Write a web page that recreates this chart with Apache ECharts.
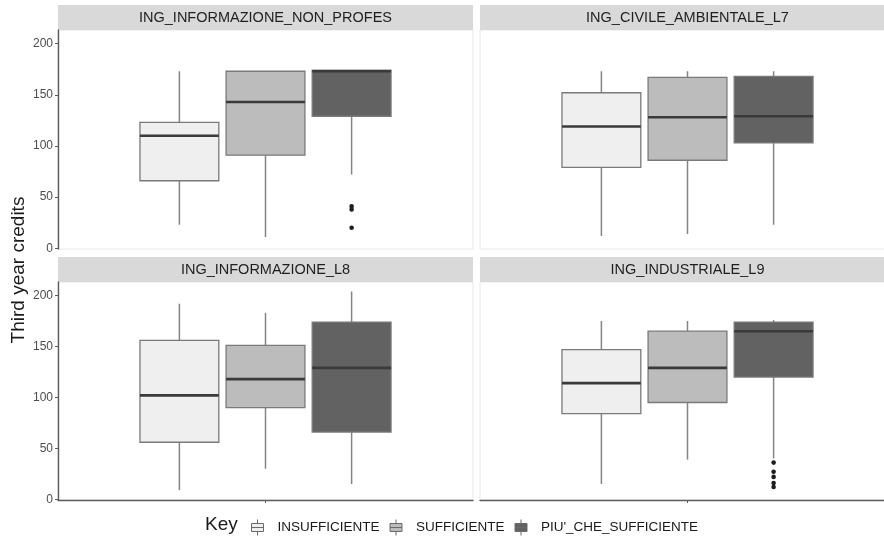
<!DOCTYPE html>
<html>
<head>
<meta charset="utf-8">
<script src="https://cdn.jsdelivr.net/npm/echarts@6.0.0/dist/echarts.min.js"></script>
<style>
  html, body { margin: 0; padding: 0; background: #ffffff; }
  #chart { width: 884px; height: 538px; }
</style>
</head>
<body>
<div id="chart"></div>
<script>
// ---- data ----------------------------------------------------------------
const panels = [
  'ING_INFORMAZIONE_NON_PROFES',
  'ING_CIVILE_AMBIENTALE_L7',
  'ING_INFORMAZIONE_L8',
  'ING_INDUSTRIALE_L9'
];
const keys = ['INSUFFICIENTE', 'SUFFICIENTE', "PIU'_CHE_SUFFICIENTE"];
const yTicks = [0, 50, 100, 150, 200];

// five-number summaries per panel: [lower whisker, Q1, median, Q3, upper whisker]
const insufficiente = [
  [23, 66, 110, 123, 173],
  [12, 79, 119, 152, 173],
  [9, 56, 102, 156, 192],
  [15, 84, 114, 147, 175]
];
const sufficiente = [
  [11, 91, 143, 173, 173],
  [14, 86, 128, 167, 173],
  [30, 90, 118, 151, 183],
  [39, 95, 129, 165, 175]
];
const piuCheSufficiente = [
  [72, 129, 173, 174, 174],
  [23, 103, 129, 168, 173],
  [15, 66, 129, 174, 204],
  [40, 120, 165, 174, 176]
];

// outlying observations per panel
const outliersInsufficiente = [[], [], [], []];
const outliersSufficiente = [[], [], [], []];
const outliersPiuCheSufficiente = [[41, 38, 20], [], [], [36, 27, 22, 16, 12]];

// ---- styling & layout ----------------------------------------------------
const FONT = '"Liberation Sans", Arial, Helvetica, sans-serif';
const summaries = [insufficiente, sufficiente, piuCheSufficiente];
const outliers = [outliersInsufficiente, outliersSufficiente, outliersPiuCheSufficiente];
const keyFills = ['#efefef', '#bcbcbc', '#626262'];
const BOX_BORDER = '#7a7a7a';
const WHISKER = '#858585';
const MEDIAN = '#3a3a3a';
const AXIS_DARK = '#5c5c5c';

const PANEL_W = 415;
const STRIP_H = 25;
const panelBoxes = [
  { left: 58,  top: 30,  height: 219 },
  { left: 480, top: 30,  height: 219 },
  { left: 58,  top: 282, height: 218 },
  { left: 480, top: 282, height: 218 }
];
// dodge: three boxes share one x slot (fractions of the band width)
const DODGE = 0.2075;
const BOX_W = 0.19;

function boxRenderer(k) {
  return function (params, api) {
    const band = api.size([1, 0])[0];
    const cat = api.value(0);
    const cx = api.coord([cat, 0])[0] + (k - 1) * DODGE * band;
    const half = BOX_W * band / 2;
    const py = i => api.coord([cat, api.value(i)])[1];
    const yMin = py(1), yQ1 = py(2), yMed = py(3), yQ3 = py(4), yMax = py(5);
    return {
      type: 'group',
      children: [
        { type: 'line', shape: { x1: cx, y1: yMax, x2: cx, y2: yQ3 },
          style: { stroke: WHISKER, lineWidth: 1.5 } },
        { type: 'line', shape: { x1: cx, y1: yQ1, x2: cx, y2: yMin },
          style: { stroke: WHISKER, lineWidth: 1.5 } },
        { type: 'rect', shape: { x: cx - half, y: yQ3, width: 2 * half, height: yQ1 - yQ3 },
          style: { fill: api.visual('color'), stroke: BOX_BORDER, lineWidth: 1.3 } },
        { type: 'line', shape: { x1: cx - half, y1: yMed, x2: cx + half, y2: yMed },
          style: { stroke: MEDIAN, lineWidth: 2.6 } }
      ]
    };
  };
}

function outlierRenderer(k) {
  return function (params, api) {
    const band = api.size([1, 0])[0];
    const cat = api.value(0);
    const p = api.coord([cat, api.value(1)]);
    return {
      type: 'circle',
      shape: { cx: p[0] + (k - 1) * DODGE * band, cy: p[1], r: 2.3 },
      style: { fill: '#1e1e1e' }
    };
  };
}

const grid = [], xAxis = [], yAxis = [], series = [], graphic = [];

panels.forEach((title, p) => {
  const box = panelBoxes[p];
  const isBottom = p >= 2;
  const isLeft = p % 2 === 0;

  grid.push({
    left: box.left, top: box.top, width: PANEL_W, height: box.height,
    show: true, backgroundColor: '#ffffff', borderColor: '#e8e8e8', borderWidth: 1,
    outerBoundsMode: 'none', containLabel: false
  });

  xAxis.push({
    gridIndex: p, type: 'category', data: [''], boundaryGap: true,
    axisLine: { show: isBottom, onZero: false, lineStyle: { color: AXIS_DARK, width: 1.4 } },
    axisTick: { show: isBottom, alignWithLabel: true, length: 3, lineStyle: { color: AXIS_DARK } },
    axisLabel: { show: false },
    splitLine: { show: false }
  });

  yAxis.push({
    gridIndex: p, type: 'value', min: -0.7, max: 213.3, show: isLeft,
    axisLine: { show: true, lineStyle: { color: AXIS_DARK, width: 1.4 } },
    axisTick: { show: true, length: 3, customValues: yTicks, lineStyle: { color: AXIS_DARK } },
    axisLabel: { customValues: yTicks, fontFamily: FONT, fontSize: 12, color: '#4d4d4d', margin: 5 },
    splitLine: { show: false }
  });

  keys.forEach((key, k) => {
    const s = summaries[k][p];
    series.push({
      name: key, type: 'custom', xAxisIndex: p, yAxisIndex: p,
      itemStyle: { color: keyFills[k] },
      data: [[0, s[0], s[1], s[2], s[3], s[4]]],
      renderItem: boxRenderer(k), z: 2, silent: true
    });
    if (outliers[k][p].length) {
      series.push({
        name: key + ' outliers', type: 'custom', xAxisIndex: p, yAxisIndex: p,
        data: outliers[k][p].map(v => [0, v]),
        renderItem: outlierRenderer(k), z: 3, silent: true
      });
    }
  });

  // facet strip
  graphic.push({
    type: 'group', left: box.left, top: box.top - STRIP_H,
    children: [
      { type: 'rect', shape: { x: 0, y: 0, width: PANEL_W, height: STRIP_H },
        style: { fill: '#d9d9d9' } },
      { type: 'text', x: PANEL_W / 2, y: STRIP_H / 2 + 0.5,
        style: { text: title, fill: '#1f1f1f', font: '14.5px ' + FONT,
                 textAlign: 'center', textVerticalAlign: 'middle' } }
    ]
  });
});

// y-axis title shared by all panels
graphic.push({
  type: 'text', x: 19, y: 270, rotation: Math.PI / 2,
  style: { text: 'Third year credits', fill: '#1a1a1a', font: '19px ' + FONT,
           textAlign: 'center', textVerticalAlign: 'middle' }
});
// legend title
graphic.push({
  type: 'text', x: 205, y: 525,
  style: { text: 'Key', fill: '#1a1a1a', font: '19px ' + FONT,
           textAlign: 'left', textVerticalAlign: 'middle' }
});

const keyIcon = 'path://M6,0L6,4M0,4L12,4L12,12L0,12ZM0,8L12,8M6,12L6,16';

const option = {
  backgroundColor: '#ffffff',
  animation: false,
  grid, xAxis, yAxis, series, graphic,
  legend: {
    left: 246, top: 514, orient: 'horizontal',
    itemWidth: 12, itemHeight: 16, itemGap: 10,
    selectedMode: false,
    textStyle: { fontFamily: FONT, fontSize: 13.5, color: '#1a1a1a', padding: [0, 0, 0, 9] },
    data: keys.map((key, k) => ({
      name: key, icon: keyIcon,
      itemStyle: { color: keyFills[k], borderColor: '#6a6a6a', borderWidth: 1 }
    }))
  }
};

const chart = echarts.init(document.getElementById('chart'), null, { renderer: 'canvas' });
chart.setOption(option);
</script>
</body>
</html>
